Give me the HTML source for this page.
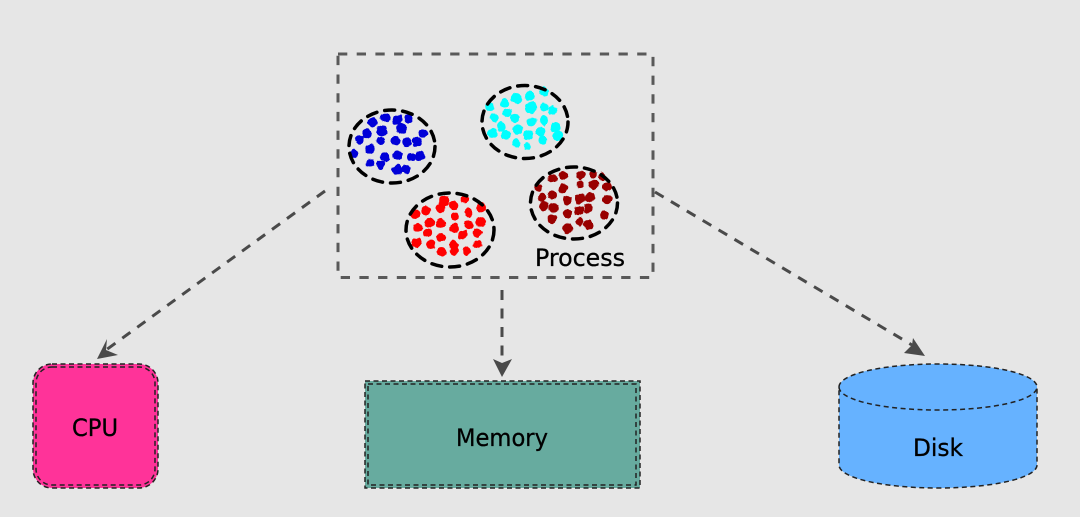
<!DOCTYPE html>
<html><head><meta charset="utf-8"><style>
html,body{margin:0;padding:0;background:#e6e6e6;width:1080px;height:517px;overflow:hidden}
svg{display:block}
text{font-family:"Comic Sans MS","DejaVu Sans","Liberation Sans",sans-serif;fill:#000;stroke:#000;stroke-width:.3;text-anchor:middle}
.d{stroke-width:6;stroke-linejoin:round;filter:url(#rough)}
</style></head><body>
<svg width="1080" height="517" viewBox="0 0 1080 517" xmlns="http://www.w3.org/2000/svg">
<defs>
<filter id="rough" x="-5%" y="-5%" width="110%" height="110%">
<feTurbulence type="fractalNoise" baseFrequency="0.05" numOctaves="2" seed="4" result="n"/>
<feDisplacementMap in="SourceGraphic" in2="n" scale="12" xChannelSelector="R" yChannelSelector="G"/>
</filter>
</defs>
<rect width="1080" height="517" fill="#e6e6e6"/>
<!-- process box -->
<rect x="338" y="54" width="315" height="223.500" fill="none" stroke="#595959" stroke-width="3" stroke-dasharray="9.300 9.400"/>
<!-- dots -->
<g class="d" fill="#0000d8" stroke="#0000d8" transform="translate(330 45) scale(.3333)">
<circle cx="128" cy="232" r="11"/><circle cx="167" cy="218" r="12"/><circle cx="203" cy="224" r="12"/><circle cx="236" cy="220" r="10"/><circle cx="215" cy="252" r="14"/><circle cx="155" cy="257" r="13"/><circle cx="110" cy="266" r="12"/><circle cx="88" cy="283" r="11"/><circle cx="278" cy="264" r="11"/><circle cx="152" cy="287" r="10"/><circle cx="197" cy="288" r="11"/><circle cx="231" cy="291" r="11"/><circle cx="262" cy="290" r="12"/><circle cx="120" cy="312" r="11"/><circle cx="72" cy="327" r="10"/><circle cx="165" cy="336" r="11"/><circle cx="202" cy="330" r="11"/><circle cx="244" cy="337" r="10"/><circle cx="270" cy="333" r="13"/><circle cx="120" cy="353" r="10"/><circle cx="152" cy="359" r="10"/><circle cx="202" cy="375" r="13"/><circle cx="228" cy="372" r="11"/>
</g>
<g class="d" fill="#00ffff" stroke="#00ffff" transform="translate(470 70) scale(.3333)">
<circle cx="223" cy="64" r="11"/><circle cx="60" cy="110" r="10"/><circle cx="104" cy="98" r="10"/><circle cx="140" cy="85" r="13"/><circle cx="179" cy="77" r="11"/><circle cx="183" cy="113" r="14"/><circle cx="222" cy="112" r="11"/><circle cx="248" cy="122" r="11"/><circle cx="112" cy="128" r="10"/><circle cx="73" cy="143" r="11"/><circle cx="135" cy="144" r="11"/><circle cx="185" cy="155" r="11"/><circle cx="222" cy="150" r="12"/><circle cx="256" cy="172" r="13"/><circle cx="95" cy="171" r="11"/><circle cx="142" cy="178" r="12"/><circle cx="69" cy="190" r="12"/><circle cx="108" cy="195" r="11"/><circle cx="175" cy="195" r="11"/><circle cx="212" cy="185" r="12"/><circle cx="264" cy="198" r="11"/><circle cx="217" cy="210" r="10"/><circle cx="140" cy="219" r="10"/><circle cx="171" cy="230" r="9"/>
</g>
<g class="d" fill="#ff0000" stroke="#ff0000" transform="translate(395 160) scale(.3333)">
<circle cx="147" cy="124" r="13"/><circle cx="210" cy="117" r="10"/><circle cx="176" cy="135" r="11"/><circle cx="137" cy="145" r="11"/><circle cx="258" cy="142" r="12"/><circle cx="60" cy="163" r="11"/><circle cx="93" cy="153" r="11"/><circle cx="221" cy="157" r="11"/><circle cx="181" cy="170" r="9"/><circle cx="104" cy="187" r="12"/><circle cx="137" cy="190" r="12"/><circle cx="257" cy="185" r="12"/><circle cx="221" cy="195" r="11"/><circle cx="69" cy="204" r="11"/><circle cx="178" cy="205" r="11"/><circle cx="97" cy="218" r="10"/><circle cx="247" cy="218" r="11"/><circle cx="204" cy="224" r="11"/><circle cx="139" cy="232" r="10"/><circle cx="65" cy="248" r="12"/><circle cx="107" cy="253" r="11"/><circle cx="176" cy="255" r="11"/><circle cx="248" cy="253" r="10"/><circle cx="140" cy="275" r="11"/><circle cx="178" cy="272" r="11"/><circle cx="215" cy="273" r="9"/>
</g>
<g class="d" fill="#990000" stroke="#990000" transform="translate(395 160) scale(.3333)">
<circle cx="430" cy="82" r="9"/><circle cx="472" cy="55" r="11"/><circle cx="505" cy="47" r="10"/><circle cx="557" cy="45" r="11"/><circle cx="595" cy="42" r="9"/><circle cx="622" cy="50" r="9"/><circle cx="555" cy="73" r="10"/><circle cx="595" cy="74" r="12"/><circle cx="635" cy="80" r="11"/><circle cx="506" cy="86" r="12"/><circle cx="472" cy="105" r="11"/><circle cx="442" cy="112" r="11"/><circle cx="585" cy="112" r="12"/><circle cx="556" cy="116" r="13"/><circle cx="517" cy="122" r="10"/><circle cx="637" cy="119" r="12"/><circle cx="446" cy="138" r="11"/><circle cx="475" cy="143" r="12"/><circle cx="580" cy="146" r="11"/><circle cx="551" cy="152" r="12"/><circle cx="516" cy="163" r="10"/><circle cx="628" cy="165" r="11"/><circle cx="472" cy="177" r="11"/><circle cx="554" cy="185" r="10"/><circle cx="581" cy="194" r="11"/><circle cx="519" cy="206" r="13"/>
</g>
<!-- dashed ellipses -->
<g fill="none" stroke="#000" stroke-width="3.500" stroke-dasharray="10 8" stroke-linecap="round">
<ellipse cx="392" cy="146.500" rx="43" ry="36.500"/>
<ellipse cx="525" cy="122" rx="43" ry="36.500"/>
<ellipse cx="450" cy="230" rx="44" ry="37"/>
<ellipse cx="574" cy="203" rx="43.500" ry="36"/>
</g>
<!-- connectors -->
<g fill="none" stroke="#4a4a4a" stroke-width="3" stroke-dasharray="10 8.500">
<path d="M325 191 L106 350"/>
<path d="M502 290 L502 363"/>
<path d="M655 192 L912 345"/>
</g>
<g fill="#4a4a4a">
<path d="M97 359 L107 339 L106 350 L118 355 Z"/>
<path d="M502 377 L493 359 L502 363 L512 359 Z"/>
<path d="M925 356 L913 338 L912 345 L904 353 Z"/>
</g>
<!-- CPU -->
<rect x="33" y="364" width="125" height="124" rx="19" fill="#ff3399" stroke="#222" stroke-width="1.500" stroke-dasharray="5 3.500"/>
<rect x="36" y="367" width="119" height="118" rx="16" fill="none" stroke="#222" stroke-width="1.500" stroke-dasharray="5 3.500"/>
<!-- Memory -->
<rect x="365" y="381" width="275" height="107" fill="#67ab9f" stroke="#222" stroke-width="1.500" stroke-dasharray="5 3.500"/>
<rect x="368" y="384" width="268" height="101" fill="none" stroke="#222" stroke-width="1.500" stroke-dasharray="5 3.500"/>
<!-- Disk -->
<path d="M839 387 C839 374 883 364 938 364 C993 364 1037 374 1037 387 L1037 465 C1037 478 993 488 938 488 C883 488 839 478 839 465 Z" fill="#66b2ff" stroke="#222" stroke-width="1.500" stroke-dasharray="5 3.500"/>
<path d="M839 387 C839 400 883 410 938 410 C993 410 1037 400 1037 387" fill="none" stroke="#222" stroke-width="1.500" stroke-dasharray="5 3.500"/>
<!-- labels -->
<text x="580" y="266" font-size="24" textLength="90" lengthAdjust="spacingAndGlyphs">Process</text>
<text x="95" y="436" font-size="24" textLength="46" lengthAdjust="spacingAndGlyphs">CPU</text>
<text x="502" y="446" font-size="24" textLength="92" lengthAdjust="spacingAndGlyphs">Memory</text>
<text x="938" y="456" font-size="24" textLength="50" lengthAdjust="spacingAndGlyphs">Disk</text>
</svg>
</body></html>
